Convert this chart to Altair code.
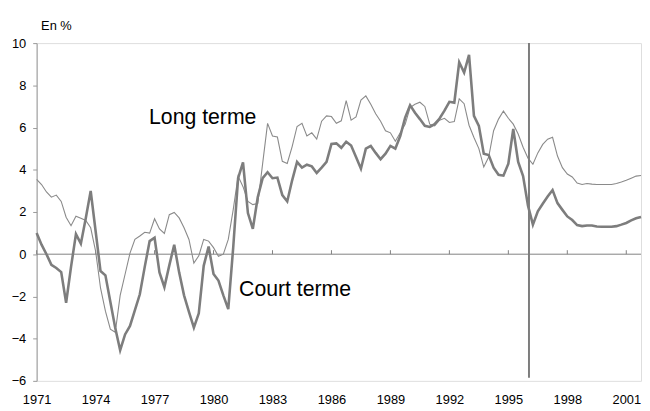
import altair as alt
import pandas as pd

years = list(range(1971, 2002))

court = [
    1.0, 0.45, 0.0, -0.5,
    -0.65, -0.85, -2.3, -0.6,
    0.95, 0.5, 1.7, 3.0,
    1.1, -0.8, -1.0, -2.25,
    -3.5, -4.55, -3.8, -3.4,
    -2.65, -1.9, -0.6, 0.62,
    0.78, -0.86, -1.56, -0.53,
    0.45, -0.86, -1.95, -2.73,
    -3.48, -2.8, -0.55, 0.36,
    -0.94, -1.25, -1.95, -2.6,
    0.3, 3.6, 4.35, 1.95,
    1.2, 2.7, 3.6, 3.88,
    3.6, 3.63, 2.8, 2.5,
    3.5, 4.37, 4.1, 4.24,
    4.16, 3.85, 4.1, 4.37,
    5.22, 5.25, 5.04, 5.33,
    5.15, 4.6, 4.05, 5.0,
    5.13, 4.8, 4.5, 4.76,
    5.13, 5.0, 5.6, 6.47,
    7.06, 6.7, 6.4, 6.08,
    6.03, 6.16, 6.43, 6.8,
    7.22, 7.18, 9.09, 8.6,
    9.44, 6.55, 6.08, 4.76,
    4.7, 4.1, 3.76, 3.72,
    4.29, 5.93, 4.37, 3.7,
    2.3, 1.4, 2.03, 2.39,
    2.73, 3.04, 2.42, 2.1,
    1.79, 1.62, 1.38, 1.33,
    1.36, 1.36, 1.31, 1.3,
    1.3, 1.3, 1.33, 1.4,
    1.48, 1.6, 1.7, 1.76,
]

long_terme = [
    3.55, 3.3, 2.95, 2.7,
    2.8, 2.5, 1.75, 1.35,
    1.8, 1.7, 1.6, 1.25,
    0.15, -1.6, -2.7, -3.55,
    -3.7, -1.95, -0.95, 0.05,
    0.7, 0.86, 1.04, 1.0,
    1.68, 1.2, 0.98, 1.87,
    1.98, 1.72, 1.25, 0.7,
    -0.42, -0.08, 0.7, 0.62,
    0.31, -0.1, 0.0, 0.7,
    2.1, 3.7, 3.2, 2.5,
    2.35, 2.4, 4.3, 6.2,
    5.6, 5.55, 4.4, 4.3,
    5.1, 6.05, 6.2, 5.6,
    5.75, 5.45, 6.3, 6.55,
    6.52, 6.2, 6.32, 7.28,
    6.35, 6.5, 7.3, 7.5,
    7.1, 6.65, 6.3, 5.85,
    5.75, 5.35, 5.75, 6.15,
    6.95, 7.1, 7.2, 7.0,
    6.16, 6.08, 6.35, 6.44,
    6.24, 6.28, 7.36, 7.13,
    6.11, 5.53, 5.0, 4.13,
    4.6, 5.85, 6.4, 6.78,
    6.44, 6.16, 5.69, 5.07,
    4.55, 4.26, 4.8, 5.2,
    5.45, 5.54, 4.65, 4.1,
    3.8, 3.66, 3.37, 3.3,
    3.35, 3.32, 3.3, 3.3,
    3.3, 3.3, 3.35, 3.42,
    3.5, 3.6, 3.7, 3.73,
]

x_ticks = [1971, 1974, 1977, 1980, 1983, 1986, 1989, 1992, 1995, 1998, 2001]
y_ticks = [-6, -4, -2, 0, 2, 4, 6, 8, 10]

break_year = [1996.05]
break_top = [10]
break_bottom = [-5.85]

label_texts = ["Long terme", "Court terme"]
label_x = [1976.72, 1981.3]
label_y = [6.16, -1.96]

FONT = "Liberation Sans"
GREY = "#808080"

t = [y + q / 4 for y in years for q in range(4)]
df = pd.DataFrame({"t": t, "court": court, "long": long_terme})

x_scale = alt.Scale(domain=[1971, 2001.75], nice=False, zero=False)
y_scale = alt.Scale(domain=[-6, 10], nice=False, zero=False)

x_axis = alt.Axis(values=x_ticks, format="d", ticks=False, domain=False, grid=False,
                  labelPadding=13, title=None, labelFontSize=13, labelFont=FONT,
                  labelColor="black", labelFlush=False, labelOverlap=False)
y_axis = alt.Axis(values=y_ticks, grid=False, tickSize=4, tickColor="#999999",
                  domainColor="#999999", labelFontSize=13, labelFont=FONT,
                  labelColor="black", labelPadding=7,
                  title="En %", titleAngle=0, titleAlign="left", titleBaseline="alphabetic",
                  titleX=4, titleY=-14, titleFontWeight="normal", titleFontSize=13,
                  titleFont=FONT, titleColor="black")

long_line = alt.Chart(df).mark_line(color="#8a8a8a", strokeWidth=1.1).encode(
    x=alt.X("t:Q", scale=x_scale, axis=x_axis),
    y=alt.Y("long:Q", scale=y_scale, axis=y_axis),
)

court_line = alt.Chart(df).mark_line(color="#7d7d7d", strokeWidth=2.6).encode(
    x=alt.X("t:Q", scale=x_scale),
    y=alt.Y("court:Q", scale=y_scale),
)

zero_df = pd.DataFrame({"z": [0]})
zero_line = alt.Chart(zero_df).mark_rule(color=GREY, strokeWidth=1).encode(
    y=alt.Y("z:Q", scale=y_scale)
)

tick_df = pd.DataFrame({"x": x_ticks, "y0": [0] * len(x_ticks), "y1": [0.19] * len(x_ticks)})
zero_ticks = alt.Chart(tick_df).mark_rule(color=GREY, strokeWidth=1).encode(
    x=alt.X("x:Q", scale=x_scale),
    y=alt.Y("y0:Q", scale=y_scale),
    y2="y1:Q",
)

break_df = pd.DataFrame({"x": break_year, "y0": break_top, "y1": break_bottom})
break_line = alt.Chart(break_df).mark_rule(color="#7d7d7d", strokeWidth=2).encode(
    x=alt.X("x:Q", scale=x_scale),
    y=alt.Y("y0:Q", scale=y_scale),
    y2="y1:Q",
)

lab_df = pd.DataFrame({"x": label_x, "y": label_y, "text": label_texts})
labels = alt.Chart(lab_df).mark_text(align="left", baseline="alphabetic", fontSize=21.5,
                                     font=FONT, color="black").encode(
    x=alt.X("x:Q", scale=x_scale),
    y=alt.Y("y:Q", scale=y_scale),
    text="text:N",
)

chart = alt.layer(zero_line, zero_ticks, long_line, court_line, break_line, labels).properties(
    width=612, height=342,
    autosize=alt.AutoSizeParams(type="none"),
    padding={"left": 29, "top": 33, "right": 1, "bottom": 30},
).configure_view(stroke="#a6a6a6", strokeWidth=1).configure(background="white")

chart.save("out.html", embed_options={"renderer": "svg", "actions": False})
